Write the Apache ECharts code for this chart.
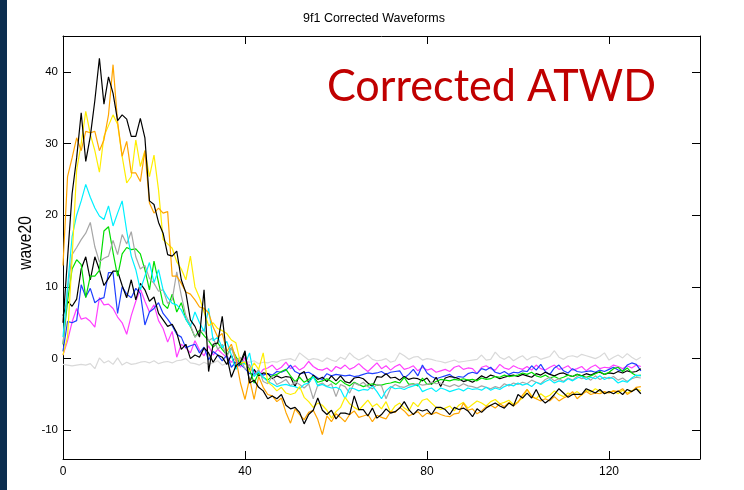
<!DOCTYPE html>
<html><head><meta charset="utf-8">
<script src="https://cdn.jsdelivr.net/npm/echarts@6/dist/echarts.min.js"></script>
<style>html,body{margin:0;padding:0;background:#fff}#c{width:744px;height:490px}</style>
</head><body><div id="c"></div>
<script>
const sampleCount = 128;
const xTicks = [0, 40, 80, 120];
const yTicks = [-10, 0, 10, 20, 30, 40];

const black1 = [
5,14,23,28,34.3,27.5,31,36,41.9,35.5,
39.3,37,33.2,34,33.4,31,31,33.5,30.8,22,
21.5,19,17.5,14.5,14.3,15,11,9.2,5.4,4.5,
3,9.6,-1.8,2,2.2,5.9,0.3,-2.6,-1,-0.5,
1.1,-3.4,-3,-4,-4.5,-5.6,-5.2,-5.6,-5,-6.5,
-7,-6.8,-7.5,-9.1,-7.8,-7.2,-5.5,-7.2,-7.8,-7.2,
-8.4,-7.6,-7.6,-7.8,-5.2,-7.1,-7.1,-8,-6.9,-8.3,
-7.8,-7,-7.6,-7.4,-6.9,-6,-7.1,-7.8,-7.1,-7.3,
-7.1,-7.8,-6.8,-6.8,-7.1,-7.8,-6.8,-7.1,-6.9,-7.3,
-8.1,-7,-7.5,-6.9,-6.5,-6.2,-6.6,-6.9,-6.2,-6.6,
-5,-5.5,-4.8,-5.5,-4.3,-5.6,-6.2,-5.7,-5,-4.2,
-4.8,-5.4,-5,-5,-5,-4.2,-4.5,-4.8,-4.3,-4.9,
-4.6,-4.9,-4.5,-5,-4.3,-4.6,-4.2,-4.9];

const orange = [
13,25.4,28,30.8,29,31.7,31.5,31.7,29,30.5,
34,41,33,28.2,30.3,25.9,25.9,24.7,29,21.7,
20.3,21,20.3,20.5,11.5,11.5,10.5,9.3,9,8.2,
7.2,7,6.4,4.4,3,3.5,1,2,0,-3.4,
-5.7,-2.8,-5.7,-2.5,-4,-5,-5.2,-6,-5.5,-7.5,
-9,-7,-7.8,-8.5,-7.5,-7.2,-8.5,-10.6,-8,-8.8,
-7.7,-8.2,-8.8,-7.8,-7.3,-8.2,-8,-7.8,-8.8,-7.9,
-8.2,-8.4,-7.4,-7.5,-6.8,-7.3,-8,-7.7,-7.4,-8.1,
-7.6,-7.8,-7.5,-7.8,-8,-8.1,-7.7,-7.6,-6.2,-7.2,
-7,-7.7,-7.3,-6.7,-6.5,-6.9,-6.3,-6.7,-6.1,-6.6,
-6.1,-5.1,-4.3,-5.3,-5.6,-5.9,-5.6,-5.9,-5.3,-5.9,
-5.5,-5.2,-4.6,-5.6,-5,-4.6,-5,-4.8,-4.9,-4.6,
-4.8,-4.5,-4.6,-4.2,-5,-4.6,-4,-3.9];

const yellow = [
0.5,3,14,26.3,30,34.5,31.3,29,26,31,
32.5,34,32.7,28.2,24.5,25.4,30.5,26.8,29,25.4,
28.4,23.5,16.6,16,15.4,13.5,12.5,11,14.3,10,
8.5,6.5,4.6,5,4.2,3.9,3.5,2.6,2.2,-0.6,
-0.5,-1.8,-0.6,-1.5,0.8,-3.3,-3.8,-4.5,-4,-4.8,
-5,-4.8,-3.9,-5.4,-6,-6.8,-6.2,-6.5,-7.2,-8.3,
-7.4,-6.8,-5.4,-6.3,-6.8,-7.2,-6.5,-5.8,-6.7,-6.3,
-7,-6,-7.5,-6.6,-6.2,-6.9,-7.3,-6.1,-6.7,-5.8,
-5.6,-6.2,-6.8,-7.1,-6.9,-6.6,-7.3,-6.5,-6.1,-6.9,
-6.4,-5.9,-6.2,-6.6,-6,-5.7,-6.3,-6.1,-5.8,-6.4,
-6,-5.5,-4.3,-5.2,-5.6,-4.9,-5.4,-5.1,-4.5,-5,
-5.3,-4.8,-5,-4.6,-5.1,-4.4,-4.7,-4.2,-4.6,-4.8,
-4.7,-4.5,-4.9,-4.4,-4.8,-4.5,-4.2,-4.5];

const cyan = [
3,10,17,20,22,24.3,22.5,21,19.9,19.4,
21.3,18.5,20.3,22,17.8,14.3,12.4,9.6,11.5,13.4,
10.6,12.4,9.6,8.5,7.7,7.5,6.8,5.5,4.5,6.5,
5,3.8,7,2.5,3,1.5,2.4,0.5,-1.5,-0.3,
-0.8,0.8,-2.5,-1.8,-2.6,-3.2,-3.5,-3.9,-3.7,-3.6,
-3.8,-3.9,-4.2,-3.6,-3.4,-2.5,-3.8,-3.6,-3.9,-4.1,
-4,-4.3,-5.6,-4.1,-4.2,-4.5,-4.3,-4.4,-3.8,-4.6,
-5.6,-4.5,-3.9,-4.2,-4.1,-4.3,-4,-3.8,-3.6,-4.6,
-4.3,-4.1,-4.6,-4.1,-4.3,-4.6,-4.4,-4.2,-4.5,-4.1,
-4.3,-4.2,-4.4,-4,-4.4,-4.1,-4.3,-3.9,-3.6,-3.8,
-3.4,-3.7,-3.5,-3.9,-3.3,-3.6,-3.2,-2.9,-3.4,-3.1,
-3.3,-2.8,-3.1,-2.7,-2.5,-2.9,-2.6,-2.8,-2.4,-2.9,
-2.6,-2.8,-3.4,-3.1,-3.3,-2.7,-2.3,-2.4];

const gray = [
2,9.5,14.5,15.5,16.6,17.5,19,15.6,13.5,14,
14.3,16.5,14.5,17.3,16,17.7,14.2,12.5,13,11.2,
10.5,9.4,9.6,7.7,8.2,12.1,8.8,6,4.7,3,
3.6,4.1,2.5,2.9,1.3,2,0.3,1.5,-0.4,0.2,
-1.5,-0.8,-2.4,-1.5,-3.2,-3.5,-2.5,-3.6,-3.3,-2.9,
-3.8,-3.2,-3.6,-4.1,-3.5,-5.6,-3.7,-3.4,-3.9,-3.5,
-5.3,-3.6,-3.9,-4.8,-3.4,-3.7,-3.3,-3.9,-4.2,-3.6,
-3.8,-5.6,-4.1,-3.6,-3.9,-4,-3.7,-3.6,-3.5,-3.7,
-3.6,-3.3,-3.5,-3.4,-3.7,-3.9,-3.6,-3.9,-3.5,-3.8,
-3.9,-4.1,-3.8,-4,-4.2,-3.9,-4.1,-3.5,-3.8,-3.4,
-3.6,-3.3,-3.5,-3,-3.3,-3.5,-2.9,-2.6,-3.1,-2.8,
-3.2,-2.7,-3,-2.5,-2.8,-2.6,-3,-2.4,-2.9,-2.6,
-2.8,-2.5,-3,-2.7,-3.2,-2.8,-2.6,-2.7];

const green = [
2,8,12.5,13.8,13.1,8.5,11.5,11.5,12.3,17.8,
18.4,14.8,11.5,14.6,15.5,15.2,15.3,14.6,12.4,9.6,
13.6,10.6,7.6,7,9,6.5,7.8,5.5,4.5,3,
4,3.2,2.5,1.6,2.2,1.3,0.5,1.5,0.3,-0.8,
-0.5,-1.5,-3.4,-2,-2.6,-3,-2.4,-2.2,-1.8,-1.5,
-2.4,-3.2,-2.6,-3.3,-2.9,-2.5,-3.3,-3.1,-2.8,-3.2,
-3.6,-3,-3.5,-3.8,-3.3,-3.6,-3.9,-3.7,-3.5,-3.7,
-3.7,-3.5,-3.4,-3.2,-3.4,-2.6,-3.6,-3.5,-3.8,-2.7,
-3.6,-3.5,-3.2,-2.9,-3,-3.1,-2.9,-3,-2.8,-3,
-2.9,-3.1,-2.7,-2.9,-2.8,-2.5,-2.6,-2.3,-2.5,-2.4,
-2.3,-2,-2.2,-1.9,-2.4,-2.6,-2.3,-2.7,-2.5,-2.8,
-2.6,-2.3,-2.5,-2.2,-2.4,-2.6,-2.4,-2.1,-1.8,-2.2,
-1.9,-1.4,-1.2,-1.8,-1.3,-2,-2.4,-2.3];

const black2 = [
6,8,7.3,8.3,12.5,14.2,11,14.2,12.4,10.2,
11.2,12.2,12.2,10.2,8.5,11,8.2,10.5,9.6,8,
8.6,6.3,5.4,4.5,4.8,3.6,1.3,2,0,0.5,
0.2,1.5,0.8,-0.5,0.5,0.2,-0.8,0.5,-1.2,-0.8,
0.8,-3.4,-1.5,-2.4,-2,-2.1,-2.8,-2.4,-2.7,-2.5,
-2.6,-3.9,-2.2,-1.8,-3.4,-2.3,-2.9,-2.6,-3.2,-2.4,
-3.1,-2.4,-3.2,-3.4,-2.7,-2.6,-2.8,-3.4,-3.9,-2.5,
-2.6,-2.1,-2.7,-2.6,-3,-2.5,-2.9,-2.7,-2.8,-3.1,
-2.7,-3.6,-2.6,-3.9,-2.7,-2.5,-2.6,-2.8,-3.2,-3,
-3.3,-2.9,-2.4,-2.7,-2.3,-2.5,-2.8,-2.6,-2.4,-2.3,
-2.5,-2.2,-2.4,-2.6,-2.1,-2.3,-1.9,-2.2,-2.4,-2.1,
-2,-2.3,-2.5,-2.2,-2.4,-2.1,-2.3,-2,-1.9,-2.2,
-2,-2.1,-1.8,-2,-1.7,-1.9,-1.8,-1.4];

const blue = [
1,5.2,5,5.3,10.3,8.6,9.8,7.8,8.3,8.5,
12,12,6.3,10,9,8.5,9.8,9.1,4.7,6.5,
7,7.8,6.3,5.5,4.6,3.4,3,1.5,1.8,2,
0.8,1.6,-0.2,1,0.5,-0.3,0.5,-1.2,-0.5,-0.8,
-1.4,-2.1,-2.1,-1.9,-2.3,-2.1,-2.3,-1.8,-1.9,-1.6,
-0.9,-1.8,-2.1,-2,-1.9,-2.3,-2.7,-2.9,-2.1,-2.4,
-2.2,-2.3,-2.4,-2.3,-2.5,-2.4,-2.2,-2,-2.1,-2,
-1.8,-2.2,-1.9,-1.8,-1.7,-2.7,-2.2,-1.5,-2.4,-0.9,
-2,-2.5,-2.8,-2.6,-2.4,-2.2,-2.7,-2.5,-2.6,-2.1,
-1.9,-2.1,-1.4,-1.6,-1.2,-1.9,-2.1,-1.8,-2.2,-1.9,
-2,-1.7,-1.8,-1,-1.6,-0.8,-1.8,-2.2,-1.3,-0.9,
-1.7,-2,-1.4,-1.8,-1.9,-1.8,-1.7,-1.9,-1.6,-1.8,
-1.5,-1.2,-1.6,-1.7,-0.9,-0.6,-0.8,-1.7];

const magenta = [
0.5,2.5,5.1,7,5.5,5.7,5.2,4.4,8.5,7.5,
7.6,7,5.8,5,3.4,6,8,9.7,8,6.5,
7.5,5.3,4.2,2.3,3.8,0.2,2,1.5,0.8,2.5,
1.2,0.4,1.8,0.5,1.3,0.7,0.2,-0.5,0.1,-1.2,
0.2,-1.4,-1.8,-2.4,-1.5,-1.3,-0.9,-1.6,-1.2,-0.5,
-1.4,-1,-1.6,-1.2,-0.4,-1.1,-1.5,-1.6,-1.3,-1.8,
-1.1,-1.4,-0.9,-1.5,-1.2,-0.7,-1.3,-1.8,-1.2,-0.6,
-1.4,-1,-1.6,-1.1,-0.8,-1.5,-1.3,-1,-1.7,-1.2,
-1.6,-1.4,-1.9,-1.7,-1.5,-1.8,-1.2,-1,-1.5,-1.3,
-1.4,-2.1,-1.2,-1,-1.4,-1.6,-0.8,-1.3,-1.5,-1,
-1.3,-1.5,-1.1,-1.6,-0.9,-1.4,-1.6,-1.2,-0.9,-1.5,
-1.3,-1,-1.6,-1.4,-1.1,-1.7,-1.2,-0.9,-1.4,-1.2,
-1.3,-0.9,-1.1,-1.4,-1,-1.3,-0.9,-1.1];

const lightgray = [
-0.8,-0.9,-1,-0.9,-0.8,-0.9,-0.7,-1.4,0.1,-0.6,
-0.3,-0.8,0.1,-0.9,-0.5,-0.8,-0.7,-0.5,-0.4,-0.6,
-0.3,-0.7,-0.5,-0.4,-0.6,-0.3,-0.2,0,-0.6,-0.7,
-0.9,-0.5,-0.8,-0.6,-0.3,-0.9,-0.7,-0.5,-0.6,-0.2,
-0.4,-0.5,-0.3,-0.7,-0.5,-0.6,-0.4,-0.5,-0.2,-0.1,
0,-0.3,0.8,0.3,-0.2,0,-0.1,-0.4,0.1,-0.2,
-0.4,0.2,-0.1,0.8,0.2,-0.2,0.1,0.5,-0.1,-0.3,
-0.2,0,-0.5,-0.3,0.8,0.4,-0.1,0.2,0.3,-0.2,
0,-0.1,-0.3,-0.4,-0.6,-0.4,-0.2,-0.5,-0.4,-0.3,
-0.2,-0.1,0.5,-0.2,-0.1,0.9,0.2,-0.1,0.3,-0.3,
0.1,0.4,-0.2,0.2,0.3,-0.1,0.1,0.3,1.1,0.2,
-0.1,0.3,0.4,0.2,0.6,0.4,0.2,0,0.3,0.8,
-0.2,0.2,0.5,0.1,0.7,0.2,-0.2,0.2];

const seriesList = [
  {name:'lightgray', data:lightgray, color:'#d9d9d9'},
  {name:'magenta', data:magenta, color:'#ff40ff'},
  {name:'blue', data:blue, color:'#1f40ff'},
  {name:'black2', data:black2, color:'#000000'},
  {name:'green', data:green, color:'#00dd00'},
  {name:'gray', data:gray, color:'#a6a6a6'},
  {name:'cyan', data:cyan, color:'#00f0ff'},
  {name:'yellow', data:yellow, color:'#ffee00'},
  {name:'orange', data:orange, color:'#ffa500'},
  {name:'black1', data:black1, color:'#000000'}
];

const chart = echarts.init(document.getElementById('c'), null, {renderer:'canvas'});
const font = '"Liberation Sans", Arial, sans-serif';
const tickStyle = (vals) => ({show:true, inside:true, length:8, lineStyle:{color:'#000', width:1}, customValues:vals});
const lineStyleAxis = {show:true, onZero:false, lineStyle:{color:'#000', width:1}};
chart.setOption({
  animation:false,
  backgroundColor:'#ffffff',
  grid:{left:63, right:44, top:36, bottom:31, containLabel:false},
  xAxis:[
    {type:'value', position:'bottom', min:0, max:140, splitLine:{show:false},
      axisLine:lineStyleAxis, axisTick:tickStyle(xTicks),
      axisLabel:{color:'#000', fontSize:12, fontFamily:font, margin:7, customValues:xTicks}},
    {type:'value', position:'top', min:0, max:140, splitLine:{show:false},
      axisLine:lineStyleAxis, axisTick:tickStyle(xTicks), axisLabel:{show:false}}
  ],
  yAxis:[
    {type:'value', position:'left', min:-14, max:45, splitLine:{show:false},
      axisLine:lineStyleAxis, axisTick:tickStyle(yTicks),
      axisLabel:{color:'#000', fontSize:11.5, fontFamily:font, margin:5, customValues:yTicks}},
    {type:'value', position:'right', min:-14, max:45, splitLine:{show:false},
      axisLine:lineStyleAxis, axisTick:tickStyle(yTicks), axisLabel:{show:false}}
  ],
  graphic:[
    {type:'rect', left:0, top:0, shape:{width:7, height:490}, style:{fill:'#0b2d4f'}, silent:true},
    {type:'text', x:374, y:19, style:{text:'9f1 Corrected Waveforms', font:'12.5px "Liberation Sans", Arial, sans-serif', fill:'#000', textAlign:'center', textVerticalAlign:'middle'}},
    {type:'text', x:26, y:243, rotation:Math.PI/2, scaleX:0.82, style:{text:'wave20', font:'19px "Liberation Sans", Arial, sans-serif', fill:'#000', textAlign:'center', textVerticalAlign:'middle'}},
    {type:'text', x:327, y:109, scaleX:0.98, z:100, style:{text:'Corrected ATWD', font:'44px Lato, sans-serif', fill:'#c00000', textAlign:'left', textVerticalAlign:'bottom'}}
  ],
  series: seriesList.map(s => ({
    type:'line', name:s.name, symbol:'none', xAxisIndex:0, yAxisIndex:0,
    data: s.data.map((v,i) => [i, v]),
    lineStyle:{color:s.color, width:1.2}, itemStyle:{color:s.color},
    silent:true
  }))
});
</script></body></html>
